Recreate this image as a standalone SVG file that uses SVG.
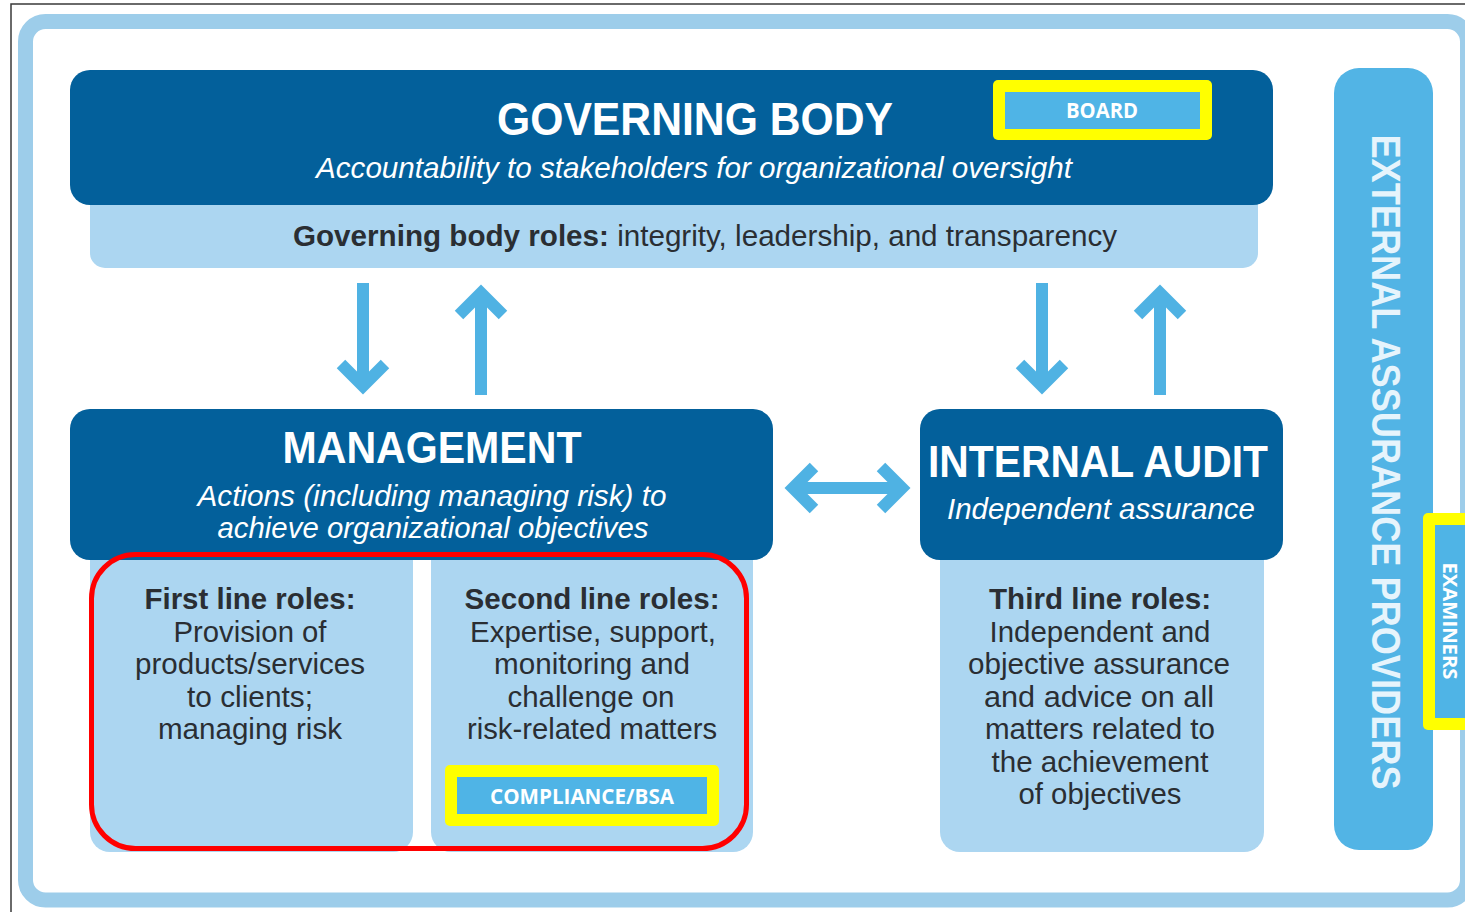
<svg xmlns="http://www.w3.org/2000/svg" width="1465" height="912" viewBox="0 0 1465 912">
  <style>
    .dark { fill: #03609b; }
    .light { fill: #acd6f1; }
    .ttl { font-family: "Liberation Sans", Arial, sans-serif; font-weight: bold; fill: #ffffff; text-anchor: middle; }
    .sub { font-family: "Liberation Sans", Arial, sans-serif; font-style: italic; fill: #ffffff; text-anchor: middle; font-size: 29px; }
    .body { font-family: "Liberation Sans", Arial, sans-serif; fill: #2a2e33; text-anchor: middle; font-size: 29px; }
    .b { font-weight: bold; }
    .tag { font-family: "Open Sans", "Liberation Sans", Arial, sans-serif; font-weight: bold; fill: #ffffff; text-anchor: middle; }
    .arrow { fill: none; stroke: #4fb2e3; stroke-width: 12; stroke-linejoin: miter; stroke-linecap: butt; }
    .hl { fill: #ffff00; }
    .chip { fill: #4fb4e6; }
  </style>

  <rect x="0" y="0" width="1465" height="912" fill="#ffffff"/>
  <!-- page edge -->
  <path d="M11 912 V4 H1465" fill="none" stroke="#3a3a3a" stroke-width="1.5"/>
  <!-- outer frame -->
  <rect x="25.5" y="21.5" width="1442" height="878.5" rx="20" fill="#ffffff" stroke="#9dcdea" stroke-width="15"/>

  <!-- governing body -->
  <g id="governing-body">
    <rect class="light" x="90" y="185" width="1168" height="83" rx="15"/>
    <rect class="dark" x="70" y="70" width="1203" height="135" rx="20"/>
    <text class="ttl" x="695" y="135" font-size="46" textLength="396" lengthAdjust="spacingAndGlyphs">GOVERNING BODY</text>
    <text class="sub" x="694" y="178" textLength="756" lengthAdjust="spacingAndGlyphs">Accountability to stakeholders for organizational oversight</text>
    <text class="body" x="705" y="246" textLength="824" lengthAdjust="spacingAndGlyphs"><tspan class="b">Governing body roles:</tspan> integrity, leadership, and transparency</text>
  </g>

  <g id="board">
    <rect class="hl" x="993" y="80" width="219" height="60" rx="5"/>
    <rect class="chip" x="1005" y="92" width="195" height="37"/>
    <text class="tag" x="1102" y="118" font-size="21" textLength="72" lengthAdjust="spacingAndGlyphs">BOARD</text>
  </g>

  <!-- management -->
  <g id="management">
    <rect class="light" x="90" y="530" width="323" height="322" rx="20"/>
    <rect class="light" x="431" y="530" width="322" height="322" rx="20"/>
    <rect class="dark" x="70" y="409" width="703" height="151" rx="20"/>
    <text class="ttl" x="432" y="463" font-size="45" textLength="299" lengthAdjust="spacingAndGlyphs">MANAGEMENT</text>
    <text class="sub" x="432" y="506" textLength="469" lengthAdjust="spacingAndGlyphs">Actions (including managing risk) to</text>
    <text class="sub" x="433" y="538" textLength="431" lengthAdjust="spacingAndGlyphs">achieve organizational objectives</text>
  </g>

  <g id="first-line">
    <text class="body b" x="250" y="609" textLength="211" lengthAdjust="spacingAndGlyphs">First line roles:</text>
    <text class="body" x="250" y="642" textLength="153" lengthAdjust="spacingAndGlyphs">Provision of</text>
    <text class="body" x="250" y="674" textLength="230" lengthAdjust="spacingAndGlyphs">products/services</text>
    <text class="body" x="250" y="707" textLength="126" lengthAdjust="spacingAndGlyphs">to clients;</text>
    <text class="body" x="250" y="739" textLength="184" lengthAdjust="spacingAndGlyphs">managing risk</text>
  </g>

  <g id="second-line">
    <text class="body b" x="592" y="609" textLength="255" lengthAdjust="spacingAndGlyphs">Second line roles:</text>
    <text class="body" x="593" y="642" textLength="246" lengthAdjust="spacingAndGlyphs">Expertise, support,</text>
    <text class="body" x="592" y="674" textLength="196" lengthAdjust="spacingAndGlyphs">monitoring and</text>
    <text class="body" x="591" y="707" textLength="167" lengthAdjust="spacingAndGlyphs">challenge on</text>
    <text class="body" x="592" y="739" textLength="250" lengthAdjust="spacingAndGlyphs">risk-related matters</text>
  </g>

  <g id="compliance">
    <rect class="hl" x="445" y="765" width="274" height="61" rx="5"/>
    <rect class="chip" x="457" y="777" width="250" height="37"/>
    <text class="tag" x="582" y="804" font-size="21" textLength="184" lengthAdjust="spacingAndGlyphs">COMPLIANCE/BSA</text>
  </g>

  <!-- first and second line outline -->
  <rect id="line-outline" x="91.5" y="554.5" width="655" height="294" rx="44" fill="none" stroke="#ff0000" stroke-width="5"/>

  <!-- internal audit -->
  <g id="internal-audit">
    <rect class="light" x="940" y="530" width="324" height="322" rx="20"/>
    <rect class="dark" x="920" y="409" width="363" height="151" rx="20"/>
    <text class="ttl" x="1098" y="477" font-size="45" textLength="340" lengthAdjust="spacingAndGlyphs">INTERNAL AUDIT</text>
    <text class="sub" x="1101" y="519" textLength="308" lengthAdjust="spacingAndGlyphs">Independent assurance</text>
  </g>

  <g id="third-line">
    <text class="body b" x="1100" y="609" textLength="222" lengthAdjust="spacingAndGlyphs">Third line roles:</text>
    <text class="body" x="1100" y="642" textLength="221" lengthAdjust="spacingAndGlyphs">Independent and</text>
    <text class="body" x="1099" y="674" textLength="262" lengthAdjust="spacingAndGlyphs">objective assurance</text>
    <text class="body" x="1099" y="707" textLength="230" lengthAdjust="spacingAndGlyphs">and advice on all</text>
    <text class="body" x="1100" y="739" textLength="230" lengthAdjust="spacingAndGlyphs">matters related to</text>
    <text class="body" x="1100" y="772" textLength="217" lengthAdjust="spacingAndGlyphs">the achievement</text>
    <text class="body" x="1100" y="804" textLength="163" lengthAdjust="spacingAndGlyphs">of objectives</text>
  </g>

  <!-- external assurance providers -->
  <g id="external-assurance">
    <rect x="1334" y="68" width="99" height="782" rx="25" fill="#52b4e5"/>
    <text x="1372" y="462" transform="rotate(90 1372 462)" font-family="'Liberation Sans', Arial, sans-serif" font-weight="bold" font-size="41" fill="#e6f4fc" text-anchor="middle" textLength="655" lengthAdjust="spacingAndGlyphs">EXTERNAL ASSURANCE PROVIDERS</text>
  </g>

  <g id="examiners">
    <rect class="hl" x="1423" y="513" width="60" height="217" rx="5"/>
    <rect class="chip" x="1435" y="525" width="40" height="193"/>
    <text class="tag" x="1443" y="621" transform="rotate(90 1443 621)" font-size="20" textLength="117" lengthAdjust="spacingAndGlyphs">EXAMINERS</text>
  </g>

  <!-- connectors -->
  <g id="connectors">
    <path class="arrow" d="M363 283 V384 M341 364 L363 386 L385 364"/>
    <path class="arrow" d="M481 395 V294 M459 315 L481 293 L503 315"/>
    <path class="arrow" d="M1042 283 V384 M1020 364 L1042 386 L1064 364"/>
    <path class="arrow" d="M1160 395 V294 M1138 315 L1160 293 L1182 315"/>
    <path class="arrow" d="M795 488 H900 M814 467 L793 488 L814 509 M881 467 L902 488 L881 509"/>
  </g>
</svg>
